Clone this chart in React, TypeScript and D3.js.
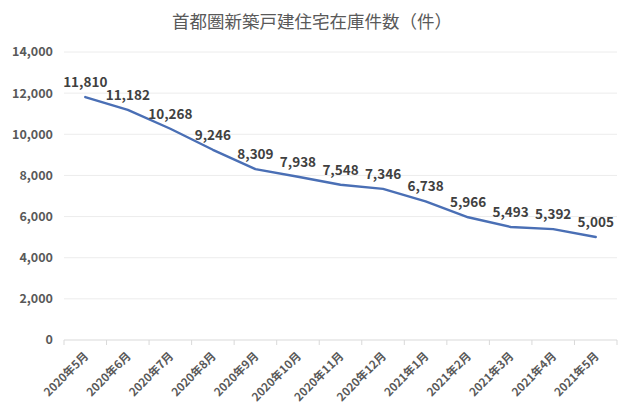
import React from 'react';
import * as d3 from 'd3';

const months = [
  '2020年5月', '2020年6月', '2020年7月', '2020年8月', '2020年9月', '2020年10月', '2020年11月',
  '2020年12月', '2021年1月', '2021年2月', '2021年3月', '2021年4月', '2021年5月',
];
const stock = [11810, 11182, 10268, 9246, 8309, 7938, 7548, 7346, 6738, 5966, 5493, 5392, 5005];
const yTicks = [0, 2000, 4000, 6000, 8000, 10000, 12000, 14000];

const W = 640;
const H = 411;
const margin = { top: 52, right: 23, bottom: 71, left: 64 };
const font = '"Noto Sans CJK JP", "Noto Sans", sans-serif';

const App: React.FC = () => {
  const x = d3.scaleBand<string>()
    .domain(months)
    .range([margin.left, W - margin.right]);
  const y = d3.scaleLinear()
    .domain([0, 14000])
    .range([H - margin.bottom, margin.top]);
  const fmt = d3.format(',');
  const cx = (m: string) => (x(m) ?? 0) + x.bandwidth() / 2;

  const line = d3.line<number>()
    .x((_, i) => cx(months[i]))
    .y(d => y(d));

  const bounds = months.map(m => x(m) ?? 0).concat([W - margin.right]);

  return (
    <svg width={W} height={H} style={{ position: 'absolute', left: 0, top: 0, background: '#fff' }}>
      <text x={312} y={28} textAnchor="middle" fontFamily={font} fontSize={17.5} fill="#595959">
        首都圏新築戸建住宅在庫件数（件）
      </text>

      {yTicks.map(t => (
        <g key={t}>
          <line x1={margin.left} x2={W - margin.right} y1={y(t)} y2={y(t)}
            stroke={t === 0 ? '#d9d9d9' : '#ececec'} strokeWidth={1} />
          <text x={53} y={y(t)} dy="0.35em" textAnchor="end" fontFamily={font}
            fontSize={12.5} fontWeight={600} fill="#595959">{fmt(t)}</text>
        </g>
      ))}

      {bounds.map((b, i) => (
        <line key={i} x1={b} x2={b} y1={y(0)} y2={y(0) + 5} stroke="#d9d9d9" />
      ))}

      {months.map(m => (
        <text key={m} transform={`translate(${cx(m) + 1},${y(0) + 14}) rotate(-45)`}
          textAnchor="end" dy="0.35em" fontFamily={font} fontSize={11.5} fontWeight={600}
          fill="#595959">{m}</text>
      ))}

      <path d={line(stock) ?? ''} fill="none" stroke="#4a6fb5" strokeWidth={2.4}
        strokeLinejoin="round" strokeLinecap="round" />

      {stock.map((v, i) => (
        <text key={i} x={cx(months[i])} y={y(v) - 10} textAnchor="middle" fontFamily={font}
          fontSize={13.5} fontWeight={600} fill="#404040">{fmt(v)}</text>
      ))}
    </svg>
  );
};

export default App;
